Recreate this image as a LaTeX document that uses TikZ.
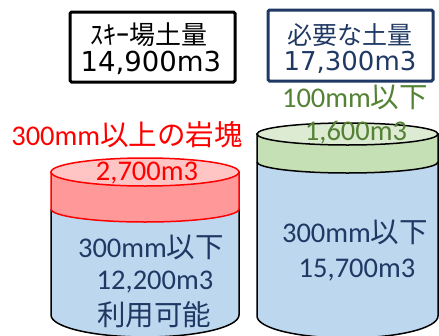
\documentclass[tikz,border=0pt]{standalone}
\usepackage{fontspec}
\setmainfont{Carlito}
\newfontfamily\jp{Noto Sans CJK JP}
\newfontfamily\dv{DejaVu Sans}
\definecolor{navy}{HTML}{1F3864}
\definecolor{gtext}{HTML}{548235}
\definecolor{bodyblue}{HTML}{BDD7EE}
\definecolor{redband}{HTML}{FF9999}
\definecolor{redtop}{HTML}{FFC5C5}
\definecolor{gband}{HTML}{C5E0B4}
\definecolor{gtop}{HTML}{DDEBD3}
\tikzset{
  lbl/.style={inner sep=0pt, align=center, font=\fontsize{28.5}{30}\selectfont},
  boxtxt/.style={inner sep=0pt, align=center},
  frame/.style={line width=3pt, rounded corners=1.5pt}
}
\begin{document}
\begin{tikzpicture}[x=1pt,y=-1pt]
\useasboundingbox (0,0) rectangle (439,335);
\clip (0,0) rectangle (439,335);
% boxes
\node[draw=black, frame, minimum width=165pt, minimum height=70pt, inner sep=0pt] (b1) at (152.5,47) {};
\node[boxtxt] (b1a) at (149,35) {\jp\fontsize{26}{28}\selectfont ｽｷｰ場土量};
\node[boxtxt] (b1b) at (151,63) {\dv\fontsize{27.5}{28}\selectfont 14,900m3};
\node[draw=navy, frame, minimum width=165pt, minimum height=71pt, inner sep=0pt] (b2) at (350.5,45.5) {};
\node[boxtxt, text=navy] (b2a) at (350,35) {\jp\fontsize{25}{28}\selectfont 必要な土量};
\node[boxtxt, text=navy] (b2b) at (350,62) {\dv\fontsize{26}{28}\selectfont 17,300m3};
% left cylinder
\fill[bodyblue] (51,209) -- (51,315) arc[start angle=180,end angle=360,x radius=94pt,y radius=22pt] -- (239,209) -- cycle;
\draw[black, line width=1.5pt] (51,209) -- (51,315) arc[start angle=180,end angle=360,x radius=94pt,y radius=22pt] -- (239,209);
\filldraw[fill=redband, draw=red, line width=1.5pt] (51,172) -- (51,209) arc[start angle=180,end angle=360,x radius=94pt,y radius=13pt] -- (239,172) -- cycle;
\filldraw[fill=redtop, draw=red, line width=1.5pt] (145,172) ellipse[x radius=94pt, y radius=14pt];
% right cylinder
\fill[bodyblue] (257,162) -- (257,316) arc[start angle=180,end angle=360,x radius=90.5pt,y radius=22pt] -- (438,162) -- cycle;
\draw[black, line width=1.5pt] (257,162) -- (257,316) arc[start angle=180,end angle=360,x radius=90.5pt,y radius=22pt] -- (438,162);
\filldraw[fill=gband, draw=black, line width=1.5pt] (257,134) -- (257,162) arc[start angle=180,end angle=360,x radius=90.5pt,y radius=11pt] -- (438,134) -- cycle;
\filldraw[fill=gtop, draw=black, line width=1.5pt] (347.5,134) ellipse[x radius=90.5pt, y radius=11pt];
% labels
\node[lbl, text=red] (rock) at (127,135) {300mm{\jp 以上の岩塊}};
\node[lbl, text=red] (rockv) at (147,173) {2,700m3};
\node[lbl, text=gtext] (fine) at (355,97) {100mm{\jp 以下}};
\node[lbl, text=gtext] (finev) at (356,133) {1,600m3};
\node[lbl, text=navy] (l1) at (151,247) {300mm{\jp 以下}};
\node[lbl, text=navy] (l2) at (155,282) {12,200m3};
\node[lbl, text=navy] (l3) at (154,315) {\jp 利用可能};
\node[lbl, text=navy] (r1) at (355,232) {300mm{\jp 以下}};
\node[lbl, text=navy] (r2) at (357,270) {15,700m3};
\end{tikzpicture}
\end{document}
